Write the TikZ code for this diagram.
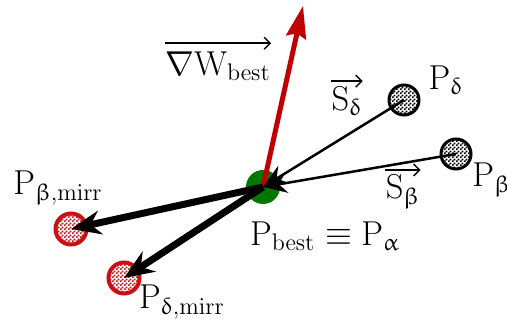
\documentclass[tikz,border=0pt]{standalone}
\usepackage{upgreek}
\usetikzlibrary{arrows.meta,patterns.meta}

\definecolor{mirrred}{RGB}{200,16,22}
\definecolor{gradred}{RGB}{192,0,0}
\definecolor{bestgreen}{RGB}{0,120,0}

\tikzdeclarepattern{
  name=finechecker,
  type=uncolored,
  bounding box={(0pt,0pt) and (2pt,2pt)},
  tile size={(2pt,2pt)},
  code={
    \pgfpathrectangle{\pgfpointorigin}{\pgfpoint{1pt}{1pt}}
    \pgfpathrectangle{\pgfpoint{1pt}{1pt}}{\pgfpoint{1pt}{1pt}}
    \pgfusepath{fill}
  }
}

\tikzset{
  pnt/.style={circle, draw, line width=1.5pt, minimum size=15pt, inner sep=0pt,
    preaction={fill=white}, pattern=finechecker, pattern color=black},
  mirr/.style={pnt, draw=mirrred, line width=2pt, minimum size=15.5pt, pattern color=mirrred},
  best/.style={circle, fill=bestgreen, minimum size=17pt, inner sep=0pt},
  lbl/.style={font=\fontsize{17}{20}\selectfont, inner sep=0pt},
  vecarrow/.style={line width=0.7pt, -{Straight Barb[length=3pt,width=6pt]}},
  thinarrow/.style={line width=1.25pt, -{Stealth[length=12pt,width=10pt,inset=4pt]}},
  thickarrow/.style={line width=3.5pt, -{Stealth[length=15pt,width=12pt,inset=5pt]}},
  gradarrow/.style={gradred, line width=2.5pt, -{Stealth[length=16pt,width=10pt,inset=2pt]}}
}

\begin{document}
\begin{tikzpicture}[x=0.5pt, y=-0.5pt]
  \useasboundingbox (0,0) rectangle (507,330);

  % points
  \node[best] (pbest) at (263,187) {};
  \node[pnt] (pdelta) at (404,100) {};
  \node[pnt] (pbeta) at (456,154) {};
  \node[mirr] (pbetamirr) at (71,229) {};
  \node[mirr] (pdeltamirr) at (124,278) {};
  \coordinate (gradtip) at (303,6);

  % arrows
  \draw[gradarrow] (pbest.center) -- (gradtip);
  \draw[thinarrow] (pdelta.center) -- (pbest.center);
  \draw[thinarrow] (pbeta.center) -- (pbest.center);
  \draw[thickarrow] (pbest.center) -- (pbetamirr.center);
  \draw[thickarrow] (pbest.center) -- (pdeltamirr.center);

  % labels
  \node[lbl] (gradlbl) at (218,66) {$\nabla\mathrm{W}_{\mathrm{best}}$};
  \node[lbl] (sdeltalbl) at (347,101) {$\mathrm{S}_{\updelta}$};
  \node[lbl] (sbetalbl) at (403,192) {$\mathrm{S}_{\upbeta}$};
  \node[lbl] (pdeltalbl) at (446,80) {$\mathrm{P}_{\updelta}$};
  \node[lbl, anchor=west] (pbetalbl) at (472,180) {$\mathrm{P}_{\upbeta}$};
  \node[lbl] (pbetamirrlbl) at (58,188) {$\mathrm{P}_{\upbeta,\mathrm{mirr}}$};
  \node[lbl] (pdeltamirrlbl) at (182,302) {$\mathrm{P}_{\updelta,\mathrm{mirr}}$};
  \node[lbl] (pbestlbl) at (325,236) {$\mathrm{P}_{\mathrm{best}}\equiv\mathrm{P}_{\upalpha}$};

  % vector marks
  \draw[vecarrow] ([yshift=4pt]gradlbl.north west) -- ([yshift=4pt]gradlbl.north east);
  \draw[vecarrow] ([yshift=2.5pt]sdeltalbl.north west) -- ([yshift=2.5pt]sdeltalbl.north east);
  \draw[vecarrow] ([yshift=2.5pt]sbetalbl.north west) -- ([yshift=2.5pt]sbetalbl.north east);
\end{tikzpicture}
\end{document}
